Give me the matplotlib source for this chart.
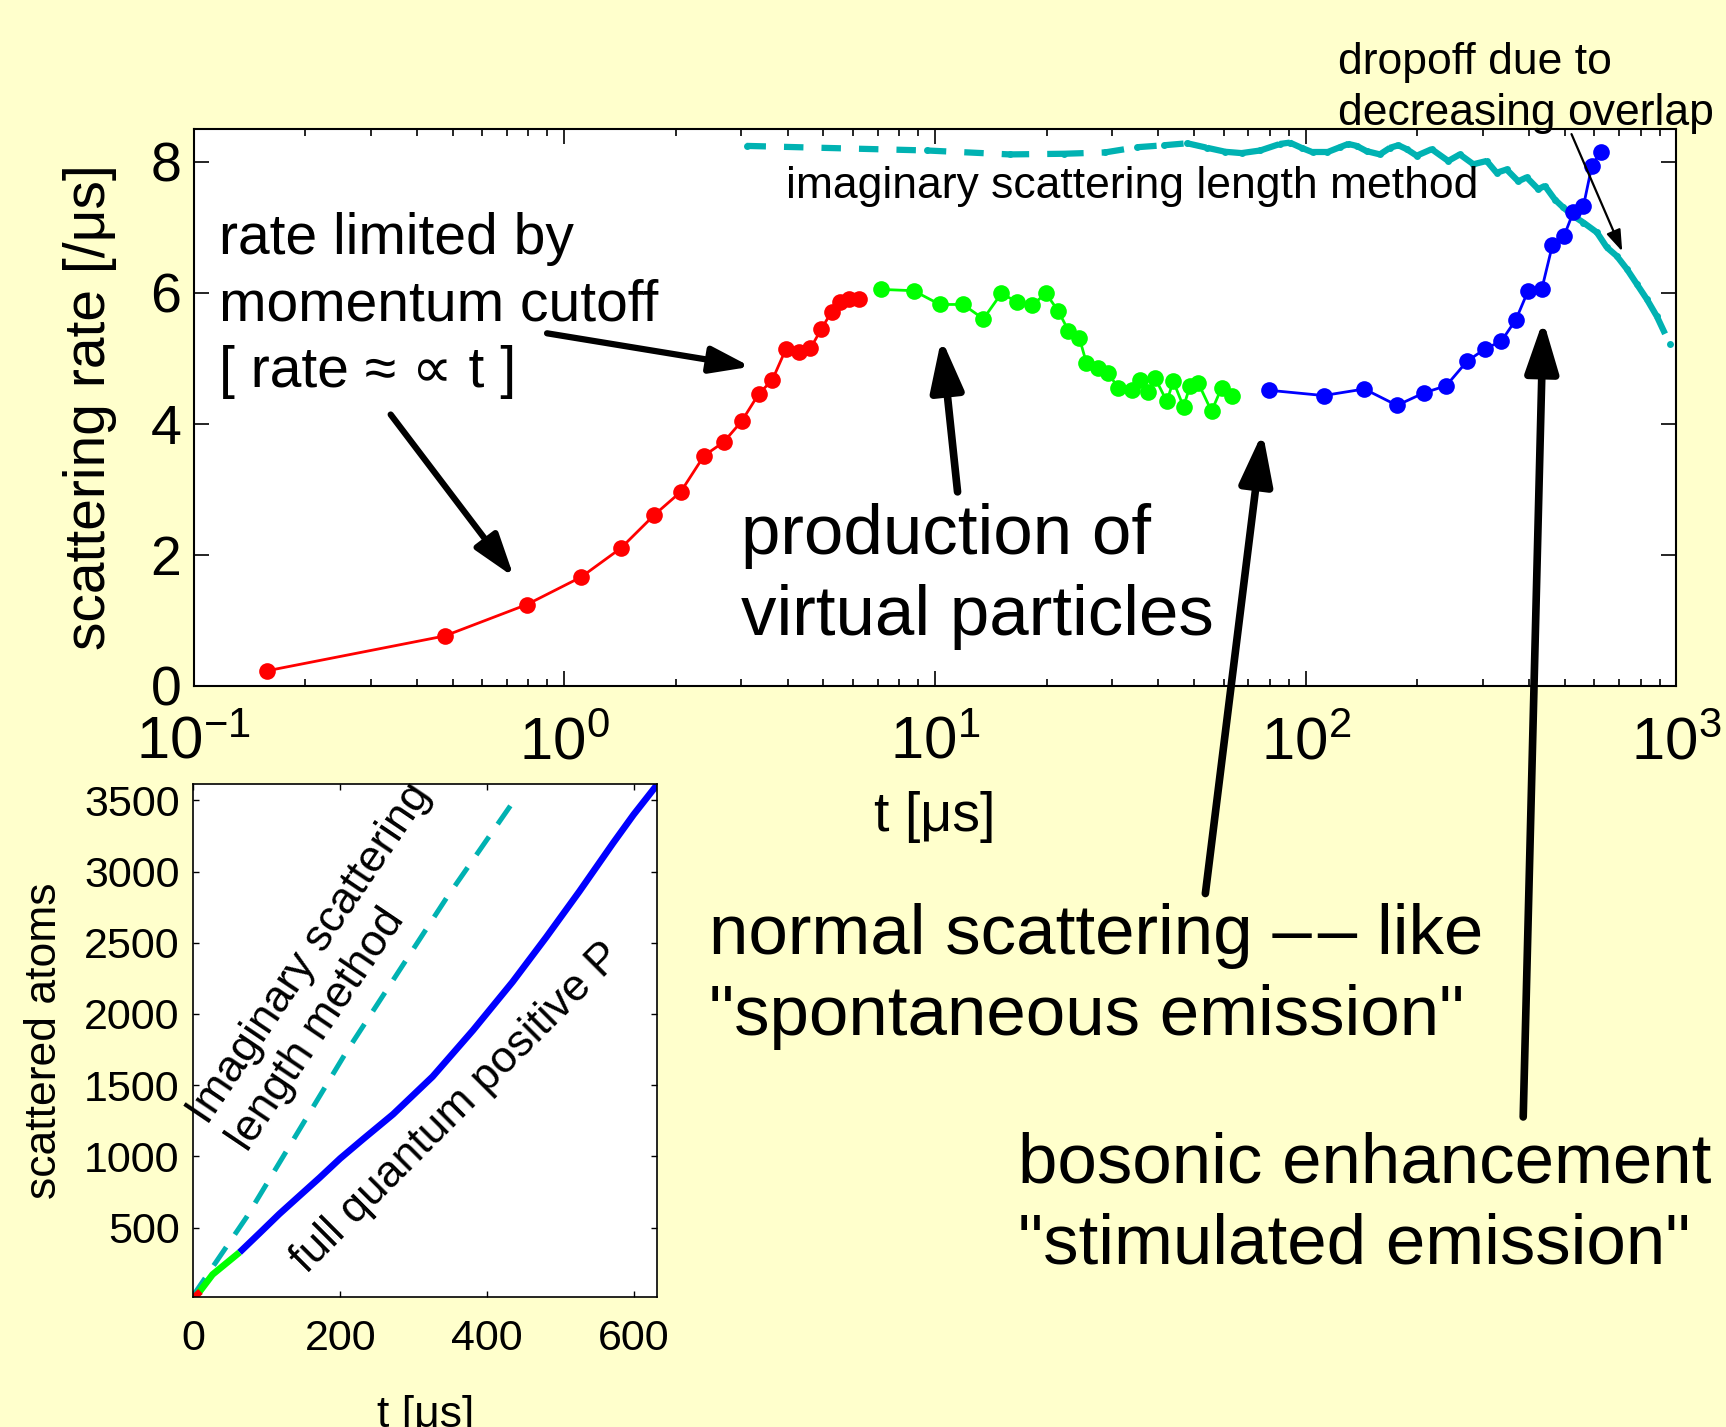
import numpy as np
import matplotlib.pyplot as plt
from matplotlib.collections import LineCollection

plt.rcParams['font.family'] = ['Liberation Sans', 'DejaVu Sans']
plt.rcParams['mathtext.fontset'] = 'custom'
plt.rcParams['mathtext.rm'] = 'Liberation Sans'
plt.rcParams['mathtext.it'] = 'Liberation Sans'
plt.rcParams['mathtext.default'] = 'regular'
plt.rcParams['lines.scale_dashes'] = False

# main panel: scattering rate [/us] against t [us]
t_red = [0.158, 0.475, 0.792, 1.11, 1.42, 1.75, 2.06, 2.38, 2.69, 3.01,
         3.34, 3.64, 3.96, 4.29, 4.61, 4.93, 5.26, 5.53, 5.85, 6.22]
r_red = [0.23, 0.76, 1.24, 1.66, 2.10, 2.61, 2.96, 3.51, 3.72, 4.04,
         4.45, 4.67, 5.14, 5.09, 5.15, 5.44, 5.71, 5.85, 5.91, 5.91]

t_green = [7.14, 8.75, 10.3, 11.9, 13.5, 15.1, 16.6, 18.3, 19.9, 21.5,
           22.9, 24.5, 25.6, 27.5, 29.3, 31.2, 33.9, 35.7, 37.6, 39.2,
           42.2, 43.9, 46.8, 48.7, 51.3, 55.7, 59.3, 63.1]
r_green = [6.05, 6.03, 5.82, 5.82, 5.60, 5.99, 5.86, 5.81, 5.99, 5.72,
           5.42, 5.31, 4.93, 4.85, 4.77, 4.55, 4.52, 4.67, 4.49, 4.70,
           4.34, 4.65, 4.26, 4.57, 4.62, 4.19, 4.55, 4.42]

t_blue = [79.8, 111.7, 143.9, 176.2, 208.3, 239.3, 272, 304, 337, 369,
          398, 433, 463, 497, 527, 561, 591, 624]
r_blue = [4.51, 4.43, 4.53, 4.28, 4.47, 4.58, 4.95, 5.14, 5.26, 5.59,
          6.03, 6.05, 6.73, 6.86, 7.23, 7.32, 7.93, 8.15]

t_cyan = [3.1, 9.5, 15.9, 22.3, 28.7, 35.1, 41.5, 47.9, 54.3, 60.7, 67.1,
          75.4, 85.2, 90.6, 97.4, 104.7, 113.8, 123.6, 130.2, 137.2, 145.9,
          158.5, 168.6, 177.7, 187.2, 199.2, 218.6, 242.3, 260.4, 283.2,
          307.6, 327.2, 348.2, 374.3, 394.4, 423.8, 441.7, 470, 495, 527,
          561, 610, 649, 690, 735, 782, 832, 885, 961]
r_cyan = [8.24, 8.17, 8.11, 8.12, 8.14, 8.22, 8.25, 8.28, 8.21, 8.15, 8.13,
          8.17, 8.27, 8.29, 8.21, 8.14, 8.14, 8.22, 8.27, 8.24, 8.16,
          8.11, 8.21, 8.25, 8.19, 8.09, 8.19, 8.01, 8.11, 7.96,
          8.01, 7.83, 7.88, 7.70, 7.76, 7.58, 7.63, 7.42, 7.30, 7.17,
          7.07, 6.92, 6.69, 6.56, 6.36, 6.13, 5.90, 5.64, 5.21]

# inset: cumulative scattered atoms against t [us]
ti_red = [0, 3, 6.2]
ni_red = [12, 20, 35]
ti_green = [6.2, 26, 62.7]
ni_green = [35, 170, 325]
ti_blue = [62.7, 90, 117, 145, 172, 200, 231, 272, 326, 381, 435, 481, 526, 572, 600, 632]
ni_blue = [325, 460, 595, 725, 850, 985, 1120, 1295, 1560, 1885, 2225, 2540, 2860, 3200, 3400, 3610]
ti_cyan = [0, 3.6, 72, 208, 345, 442]
ni_cyan = [12, 52, 570, 1730, 2815, 3536]

W, H = 1726, 1427
bg = '#FFFFCC'
cyan = '#00B2B2'


def fpos(x, y):
    return x / W, 1 - y / H


fig = plt.figure(figsize=(W / 100, H / 100), dpi=100, facecolor=bg)

ax = fig.add_axes([0.1122, 0.5194, 0.8591, 0.3903])
ax.set_xscale('log')

segs = [[(t_cyan[i], r_cyan[i]), (t_cyan[i + 1], r_cyan[i + 1])] for i in range(len(t_cyan) - 1)]
lc = LineCollection(segs, colors=cyan, linewidths=4.5, linestyles=[(0, (14, 13))], capstyle='butt')
ax.add_collection(lc)
ax.plot(t_cyan, r_cyan, 'o', color=cyan, ms=5, mec='none')

ax.plot(t_red, r_red, '-o', color='#FF0000', lw=2, ms=12, mec='none')
ax.plot(t_green, r_green, '-o', color='#00FF00', lw=2, ms=12, mec='none')
ax.plot(t_blue, r_blue, '-o', color='#0000FF', lw=2, ms=12, mec='none')

ax.set_xlim(0.1, 1000)
ax.set_ylim(0, 8.5)
ax.set_yticks([0, 2, 4, 6, 8])
ax.tick_params(which='both', direction='in', top=True, right=True, width=1.2)
ax.tick_params(which='major', length=10.5, labelsize=40)
ax.tick_params(which='minor', length=5)
ax.tick_params(axis='x', which='major', pad=22, labelsize=43)
ax.tick_params(axis='y', which='major', pad=9)
for s in ax.spines.values():
    s.set_linewidth(1.5)
ax.set_xlabel('t [μs]', fontsize=40, labelpad=14)
ax.set_ylabel('scattering rate [/μs]', fontsize=41, labelpad=24)

fig.text(*fpos(786, 198), 'imaginary scattering length method', fontsize=32, va='baseline')
fig.text(*fpos(1338, 125), 'dropoff due to\ndecreasing overlap', fontsize=32, va='baseline', linespacing=1.3)
fig.text(*fpos(219, 387), 'rate limited by\nmomentum cutoff\n[ rate ≈ ∝ t ]', fontsize=41, va='baseline', linespacing=1.3)
fig.text(*fpos(741, 635), 'production of\nvirtual particles', fontsize=51, va='baseline', linespacing=1.3)
fig.text(*fpos(709, 1035), 'normal scattering \u2013\u200a\u2013 like\n"spontaneous emission"', fontsize=51, va='baseline', linespacing=1.3)
fig.text(*fpos(1018, 1263), 'bosonic enhancement\n"stimulated emission"', fontsize=51, va='baseline', linespacing=1.28)


def arrow(tail, head, lw, hl, hw):
    ax.annotate('', xy=head, xytext=tail, xycoords='data', textcoords='data',
                arrowprops=dict(arrowstyle='-|>,head_length=%g,head_width=%g' % (hl, hw),
                                lw=lw, color='k', shrinkA=0, shrinkB=0, mutation_scale=1),
                annotation_clip=False)


arrow((0.898, 5.38), (3.18, 4.87), 4.5, 24, 8)
arrow((0.340, 4.14), (0.731, 1.66), 4.5, 26, 8.5)
arrow((11.5, 2.96), (10.4, 5.30), 5.5, 31, 10)
arrow((53.6, -3.17), (76.5, 3.87), 5.5, 31, 10)
arrow((386, -6.58), (437, 5.58), 5.5, 31, 10)
arrow((521, 8.42), (714, 6.63), 1.6, 13, 4.5)

# inset
ai = fig.add_axes([0.1121, 0.0911, 0.2686, 0.3598])
ai.plot(ti_cyan, ni_cyan, color=cyan, lw=3.6, dashes=(16, 11))
ai.plot(ti_blue, ni_blue, color='#0000FF', lw=4.8, solid_capstyle='butt')
ai.plot(ti_green, ni_green, color='#00FF00', lw=4.8, solid_capstyle='butt')
ai.plot(ti_red, ni_red, color='#FF0000', lw=4.8)
ai.set_xlim(0, 632)
ai.set_ylim(12, 3618)
ai.set_xticks([0, 200, 400, 600])
ai.set_yticks([500, 1000, 1500, 2000, 2500, 3000, 3500])
ai.tick_params(which='both', direction='in', top=True, right=True, length=4, width=1, labelsize=31)
ai.tick_params(axis='x', pad=16)
ai.tick_params(axis='y', pad=10)
for s in ai.spines.values():
    s.set_linewidth(1.2)
ai.set_xlabel('t [μs]', fontsize=32, labelpad=26)
ai.set_ylabel('scattered atoms', fontsize=32, labelpad=14)

fig.text(*fpos(330, 967), 'Imaginary scattering\nlength method', fontsize=32, rotation=56,
         ha='center', va='center', rotation_mode='anchor', multialignment='left', linespacing=1.25)
fig.text(*fpos(457, 1108), 'full quantum positive P', fontsize=32, rotation=45,
         ha='center', va='center', rotation_mode='anchor')

fig.savefig('out.png', dpi=100, facecolor=bg)
